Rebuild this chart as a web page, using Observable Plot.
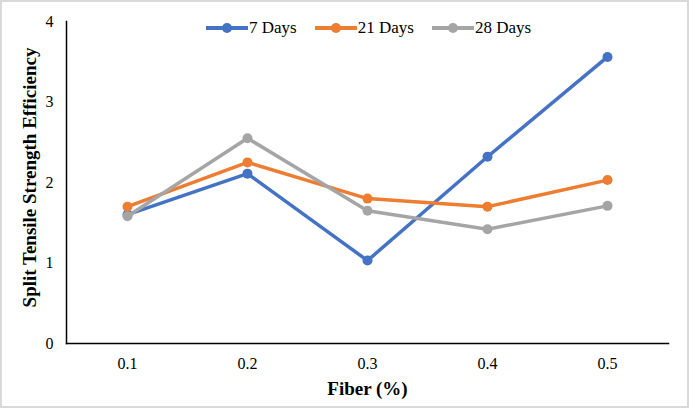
<!DOCTYPE html>
<html>
<head>
<meta charset="utf-8">
<script src="https://cdn.jsdelivr.net/npm/d3@7"></script>
<script src="https://cdn.jsdelivr.net/npm/@observablehq/plot@0.6"></script>
<style>
  body { margin: 0; background: #fff; }
  #wrap { position: relative; width: 689px; height: 408px; overflow: hidden; font-family: "Liberation Serif", "Times New Roman", "DejaVu Serif", serif; }
  #chart svg, #chart svg text { font-family: "Liberation Serif", "Times New Roman", "DejaVu Serif", serif !important; }
  #border { position: absolute; left: 0; top: 0; width: 689px; height: 408px; box-sizing: border-box; border: 2px solid #d9d9d9; pointer-events: none; }
  #legend { position: absolute; top: 18px; left: 206px; display: flex; align-items: center; font-size: 17px; color: #000; font-family: "Liberation Serif", "Times New Roman", "DejaVu Serif", serif; }
  .item { display: flex; align-items: center; margin-right: 18px; }
  .item svg { display: block; }
</style>
</head>
<body>
<div id="wrap">
  <div id="chart"></div>
  <div id="legend"></div>
  <div id="border"></div>
</div>
<script>
const fibers = ["0.1", "0.2", "0.3", "0.4", "0.5"];
const series = ["7 Days", "21 Days", "28 Days"];
const days7  = [1.60, 2.11, 1.03, 2.32, 3.56];
const days21 = [1.70, 2.25, 1.80, 1.70, 2.03];
const days28 = [1.58, 2.55, 1.65, 1.42, 1.71];
const colors = ["#4472C4", "#ED7D31", "#A5A5A5"];
const yTicks = [0, 1, 2, 3, 4];
const xTitle = "Fiber (%)";
const yTitle = "Split Tensile Strength Efficiency";

const valuesBySeries = [days7, days21, days28];
const data = [];
series.forEach((s, i) => fibers.forEach((f, j) => data.push({series: s, fiber: f, value: valuesBySeries[i][j]})));

const marks = [];
series.forEach((s, i) => {
  const d = data.filter(r => r.series === s);
  marks.push(Plot.line(d, {x: "fiber", y: "value", stroke: colors[i], strokeWidth: 3.5}));
  marks.push(Plot.dot(d, {x: "fiber", y: "value", fill: colors[i], r: 5}));
});

const chart = Plot.plot({
  width: 689,
  height: 408,
  marginLeft: 66,
  marginRight: 21,
  marginTop: 21,
  marginBottom: 65,
  style: {background: "transparent", color: "#000"},
  x: {type: "point", domain: fibers, padding: 0.5, label: null},
  y: {domain: [0, 4], ticks: yTicks, label: null},
  marks: [
    Plot.axisX({tickSize: 0, tickPadding: 14, fontSize: 16, label: null}),
    Plot.axisY({tickSize: 0, tickPadding: 13, fontSize: 16, ticks: yTicks, tickFormat: d3.format("d"), label: null}),
    Plot.text([xTitle], {frameAnchor: "bottom", dy: 45, textAnchor: "middle", lineAnchor: "middle", text: d => d, fontSize: 19, fontWeight: "bold", fill: "#000"}),
    Plot.text([yTitle], {frameAnchor: "left", dx: -37, dy: -5, rotate: -90, textAnchor: "middle", lineAnchor: "middle", text: d => d, fontSize: 19, fontWeight: "bold", fill: "#000"}),
    Plot.frame({anchor: "left", stroke: "#000", strokeWidth: 1.5, strokeOpacity: 1}),
    Plot.frame({anchor: "bottom", stroke: "#000", strokeWidth: 1.5, strokeOpacity: 1}),
    ...marks
  ]
});
document.getElementById("chart").appendChild(chart);

const legend = d3.select("#legend");
series.forEach((s, i) => {
  const item = legend.append("div").attr("class", "item");
  const svg = item.append("svg").attr("width", 43).attr("height", 14);
  svg.append("line").attr("x1", 0).attr("x2", 42).attr("y1", 7).attr("y2", 7).attr("stroke", colors[i]).attr("stroke-width", 4);
  svg.append("circle").attr("cx", 21).attr("cy", 7).attr("r", 5).attr("fill", colors[i]);
  item.append("span").text(s);
});
</script>
</body>
</html>
